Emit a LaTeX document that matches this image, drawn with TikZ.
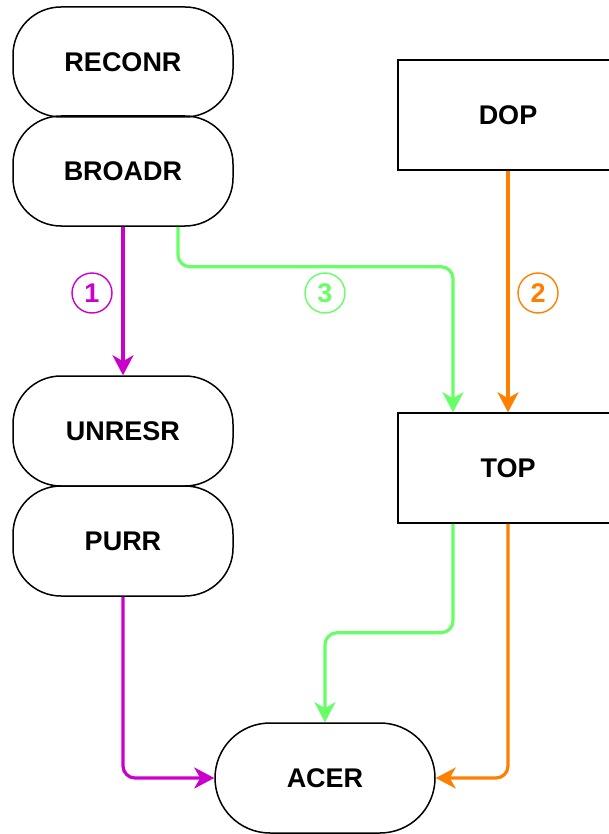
\documentclass[tikz,border=0pt]{standalone}
\usepackage{fontspec}
\setmainfont{Liberation Sans}
\usetikzlibrary{arrows.meta}
\definecolor{purpl}{HTML}{CC00CC}
\definecolor{grn}{HTML}{66FF66}
\definecolor{orng}{HTML}{FF8000}
\begin{document}
\begin{tikzpicture}[x=1pt,y=1pt,
mod/.style={draw,line width=1.5pt,rounded corners=48pt,minimum width=220pt,
minimum height=110pt,font=\fontsize{27}{30}\selectfont\bfseries},
blk/.style={draw,line width=1.5pt,minimum width=220pt,minimum height=110pt,
font=\fontsize{27}{30}\selectfont\bfseries},
flow/.style={-{Stealth[length=20pt,width=21pt,inset=6pt]},line width=3.2pt,rounded corners=12pt},
num/.style={circle,draw,line width=1.4pt,minimum size=40pt,inner sep=0pt,
font=\fontsize{27}{28}\selectfont\bfseries}]
\useasboundingbox (0,0) rectangle (608,-834);
\node[mod] (reconr) at (123,-62) {RECONR};
\node[mod] (broadr) at (123,-171) {BROADR};
\node[mod] (unresr) at (123,-431) {UNRESR};
\node[mod] (purr) at (123,-541) {PURR};
\node[blk] (dop) at (508,-115) {DOP};
\node[blk] (top) at (508,-468) {TOP};
\node[mod,rounded corners=55pt] (acer) at (325,-778) {ACER};
\node[num,purpl] (n1) at (92,-293) {1};
\node[num,orng] (n2) at (538,-293) {2};
\node[num,grn] (n3) at (325,-293) {3};
\draw[flow,purpl] (broadr.south)--(unresr.north);
\draw[flow,purpl] (purr.south)|-(acer.west);
\draw[flow,grn] ([xshift=55pt]broadr.south)--++(0,-40)-|([xshift=-55pt]top.north);
\draw[flow,grn] ([xshift=-55pt]top.south)--++(0,-109)-|(acer.north);
\draw[flow,orng] (dop.south)--(top.north);
\draw[flow,orng] (top.south)|-(acer.east);
\end{tikzpicture}
\end{document}
